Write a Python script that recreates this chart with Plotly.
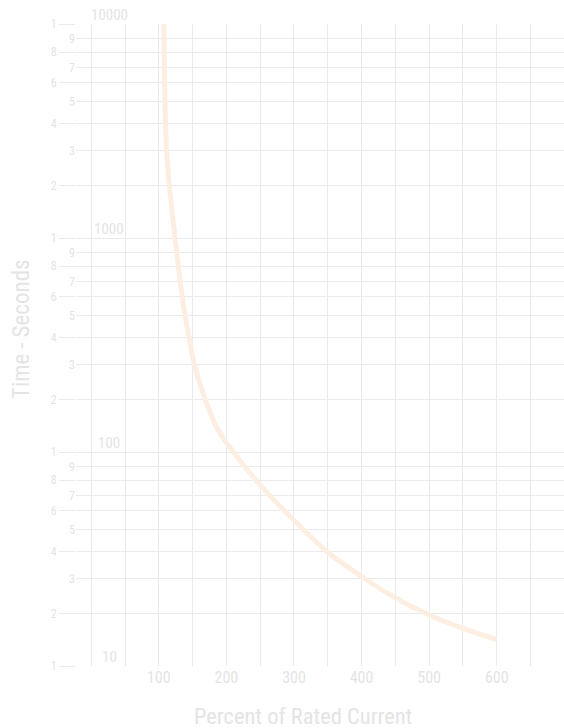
import math
import plotly.graph_objects as go

# Curve: percent of rated current vs time (seconds)
current_pct = [107.4, 109.1, 111.7, 115.5, 118, 124, 128.8, 134.7, 138.7, 145.1, 152.5,
               168.3, 188, 200.6, 250, 300, 350, 400, 450, 500, 550, 600]
time_sec = [10000, 4315, 2548, 1751, 1500, 1000, 740, 531, 436, 339, 257,
            177, 126, 110, 70, 48, 34, 26.2, 20.8, 17.3, 15.0, 13.3]

# X grid / tick labels
x_grid = list(range(0, 700, 50))
x_labels = [str(v) if (v % 100 == 0 and v > 0) else "" for v in x_grid]

# Y: decades and the graph-paper lines inside each decade (as drawn in the reference)
decades = [10, 100, 1000, 10000]
decade_labels = ["10", "100", "1000", "10000"]
paper_line_digits = [2, 3, 4, 5, 6, 7, 8, 9]
paper_line_frac = [0.244, 0.409, 0.533, 0.637, 0.726, 0.797, 0.868, 0.933]
labelled_far = [2, 4, 6, 8]      # labels farther from the axis, with longer ticks
labelled_near = [3, 5, 7, 9]     # labels next to the axis

FONT = "Liberation Sans Narrow, Roboto Condensed, Arial Narrow, DejaVu Sans Condensed, sans-serif"
GRID = "#eaeaea"
TXT = "#e4e4e4"
CURVE = "#fdeee2"

far_vals, far_text, near_vals, near_text = [], [], [], []
for d in decades:
    far_vals.append(d)
    far_text.append("1")
    if d == 10000:
        continue
    for m, f in zip(paper_line_digits, paper_line_frac):
        v = d * 10 ** f
        if m in labelled_far:
            far_vals.append(v)
            far_text.append(str(m))
        else:
            near_vals.append(v)
            near_text.append(str(m))

fig = go.Figure()
fig.add_trace(go.Scatter(
    x=current_pct, y=time_sec, mode="lines",
    line=dict(color=CURVE, width=5, shape="spline", smoothing=0.7),
    yaxis="y2", hoverinfo="skip", showlegend=False,
))

annotations = []
for d, lab in zip(decades, decade_labels):
    annotations.append(dict(
        x=27, y=math.log10(d), xref="x", yref="y", text=lab, showarrow=False,
        yanchor="bottom", yshift=-2, font=dict(size=15, color=TXT, family=FONT),
    ))
annotations.append(dict(
    x=(303 - 76) / 488, y=-(715.5 - 665.7) / 642, xref="paper", yref="paper",
    text="Percent of Rated Current", showarrow=False, yanchor="middle", xanchor="center",
    font=dict(size=22.5, color=TXT, family=FONT),
))
annotations.append(dict(
    x=(22.2 - 76) / 488, y=(665.7 - 328.5) / 642, xref="paper", yref="paper",
    text="Time - Seconds", showarrow=False, textangle=-90, yanchor="middle", xanchor="center",
    font=dict(size=23, color=TXT, family=FONT),
))

fig.update_layout(
    width=564, height=728,
    margin=dict(l=76, r=0, t=24, b=62),
    paper_bgcolor="white", plot_bgcolor="white",
    font=dict(family=FONT, color=TXT),
    showlegend=False,
    xaxis=dict(
        range=[-22.5, 699.5], tickmode="array", tickvals=x_grid, ticktext=x_labels,
        showgrid=True, gridcolor=GRID, gridwidth=1, zeroline=False, showline=False,
        ticks="", tickfont=dict(size=16, color=TXT, family=FONT),
    ),
    yaxis=dict(
        type="log", range=[1, 4], tickmode="array", tickvals=far_vals, ticktext=far_text,
        showgrid=True, gridcolor=GRID, gridwidth=1, zeroline=False, showline=False,
        ticks="outside", ticklen=16, tickcolor=GRID, tickwidth=1,
        tickfont=dict(size=12, color=TXT, family=FONT),
    ),
    yaxis2=dict(
        type="log", range=[1, 4], overlaying="y", side="left", anchor="x",
        tickmode="array", tickvals=near_vals, ticktext=near_text,
        showgrid=True, gridcolor=GRID, gridwidth=1, zeroline=False, showline=False,
        ticks="", tickfont=dict(size=12, color=TXT, family=FONT),
    ),
    annotations=annotations,
)

fig.write_html(
    "out.html",
    config={"displayModeBar": False},
    post_script="document.body.style.margin='0';document.body.style.overflow='hidden';",
)
